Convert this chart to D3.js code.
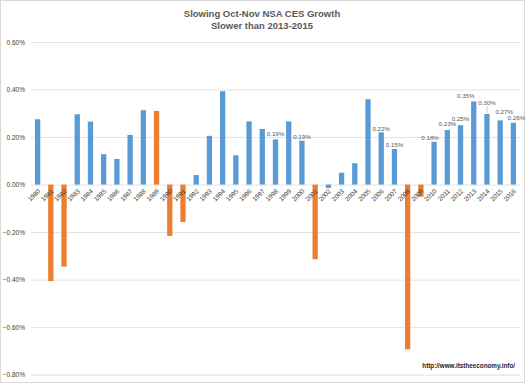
<!DOCTYPE html>
<html>
<head>
<meta charset="utf-8">
<script src="https://cdn.jsdelivr.net/npm/d3@7"></script>
<style>
  body { margin: 0; background: #fff; }
  text { font-family: "Liberation Sans", Arial, sans-serif; }
</style>
</head>
<body>
<div id="chart"></div>
<script>
// dati
var anni = ["1980","1981","1982","1983","1984","1985","1986","1987","1988","1989",
            "1990","1991","1992","1993","1994","1995","1996","1997","1998","1999",
            "2000","2001","2002","2003","2004","2005","2006","2007","2008","2009",
            "2010","2011","2012","2013","2014","2015","2016"];
var crescita = [0.275,-0.406,-0.345,0.296,0.265,0.128,0.108,0.209,0.313,0.310,
                -0.216,-0.157,0.040,0.205,0.393,0.123,0.266,0.234,0.19,0.266,
                0.185,-0.314,-0.014,0.050,0.090,0.359,0.22,0.15,-0.693,-0.051,
                0.18,0.23,0.25,0.35,0.297,0.27,0.26];
// anni di recessione (barre arancioni)
var recessione = ["1981","1982","1989","1990","1991","2001","2008","2009"];
// etichette mostrate sopra alcune barre
var etichette = {"1998":"0.19%","2000":"0.19%","2006":"0.22%","2007":"0.15%","2010":"0.18%",
                 "2011":"0.23%","2012":"0.25%","2013":"0.35%","2014":"0.30%","2015":"0.27%","2016":"0.26%"};
var tickY = [0.6,0.4,0.2,0,-0.2,-0.4,-0.6,-0.8];

var larghezza = 529, altezza = 384;
var sx = 31, dx = 520, alto = 42, basso = 374.7;

var svg = d3.select("#chart").append("svg")
  .attr("width", larghezza)
  .attr("height", altezza);

// cornice
svg.append("rect")
  .attr("x", 0.5).attr("y", 0.5)
  .attr("width", 524).attr("height", 382)
  .attr("fill", "#fff").attr("stroke", "#d9d9d9");

var x = d3.scaleBand()
  .domain(anni)
  .range([sx, dx])
  .paddingInner(0.6)
  .paddingOuter(0.3);

var y = d3.scaleLinear()
  .domain([-0.8, 0.6])
  .range([basso, alto]);

// griglia
var griglia = svg.append("g")
  .attr("transform", "translate(" + sx + ",0)")
  .call(d3.axisLeft(y).tickValues(tickY).tickSize(-(dx - sx)).tickFormat(""));
griglia.select(".domain").remove();
griglia.selectAll("line").attr("stroke", "#e3e3e3").attr("stroke-width", 1);

// etichette asse y
var asseY = svg.append("g")
  .attr("transform", "translate(" + (sx - 6) + ",0)")
  .call(d3.axisLeft(y).tickValues(tickY).tickSize(0).tickPadding(0)
        .tickFormat(function(d) { return d3.format(".2f")(d) + "%"; }));
asseY.select(".domain").remove();
asseY.selectAll("text")
  .style("font-size", "6.5px")
  .style("font-family", "'Liberation Sans', Arial, sans-serif")
  .attr("fill", "#404040");

// barre
svg.selectAll("rect.barra")
  .data(anni)
  .enter().append("rect")
  .attr("class", "barra")
  .attr("x", function(d) { return x(d); })
  .attr("width", x.bandwidth())
  .attr("y", function(d, i) { return y(Math.max(0, crescita[i])); })
  .attr("height", function(d, i) { return Math.abs(y(crescita[i]) - y(0)); })
  .attr("fill", function(d) { return recessione.indexOf(d) >= 0 ? "#ED7D31" : "#5B9BD5"; });

// etichette asse x ruotate
var asseX = svg.append("g")
  .attr("transform", "translate(0," + y(0) + ")")
  .call(d3.axisBottom(x).tickSize(0).tickPadding(0));
asseX.select(".domain").remove();
asseX.selectAll("text")
  .style("font-size", "6.5px")
  .style("font-family", "'Liberation Sans', Arial, sans-serif")
  .attr("fill", "#404040")
  .attr("text-anchor", "end")
  .attr("dy", null)
  .attr("y", 0)
  .attr("transform", "translate(3,7) rotate(-45)");

// etichette dei valori (piccoli spostamenti per non sovrapporle, come nell'originale)
var spostamenti = {"1998":[0,-2],"2010":[-4,0],"2011":[0,-2],"2012":[0,-3],
                   "2013":[-8,-2],"2014":[0,-8],"2015":[4,-5],"2016":[3,-1]};
var chiavi = Object.keys(etichette);
svg.selectAll("text.valore")
  .data(chiavi)
  .enter().append("text")
  .attr("class", "valore")
  .attr("x", function(d) {
    var s = spostamenti[d] || [0,0];
    return x(d) + x.bandwidth() / 2 + s[0];
  })
  .attr("y", function(d) {
    var s = spostamenti[d] || [0,0];
    return y(crescita[anni.indexOf(d)]) - 1.5 + s[1];
  })
  .attr("text-anchor", "middle")
  .style("font-size", "6.2px")
  .attr("fill", "#595959")
  .text(function(d) { return etichette[d]; });

// linea guida per 2014
svg.append("line")
  .attr("x1", x("2014") + x.bandwidth() / 2)
  .attr("x2", x("2014") + x.bandwidth() / 2)
  .attr("y1", y(crescita[anni.indexOf("2014")]) - 8)
  .attr("y2", y(crescita[anni.indexOf("2014")]) - 1)
  .attr("stroke", "#bfbfbf").attr("stroke-width", 0.8);

// titolo
svg.append("text")
  .attr("x", 262).attr("y", 17)
  .attr("text-anchor", "middle")
  .style("font-size", "9.5px").style("font-weight", "bold")
  .attr("fill", "#595959")
  .text("Slowing Oct-Nov NSA CES Growth");
svg.append("text")
  .attr("x", 262).attr("y", 28.5)
  .attr("text-anchor", "middle")
  .style("font-size", "9.5px").style("font-weight", "bold")
  .attr("fill", "#595959")
  .text("Slower than 2013-2015");

// fonte
svg.append("text")
  .attr("x", 515).attr("y", 368)
  .attr("text-anchor", "end")
  .style("font-size", "6.3px").style("font-weight", "bold")
  .attr("fill", "#262626")
  .text("http://www.itstheeconomy.info/");
</script>
</body>
</html>
